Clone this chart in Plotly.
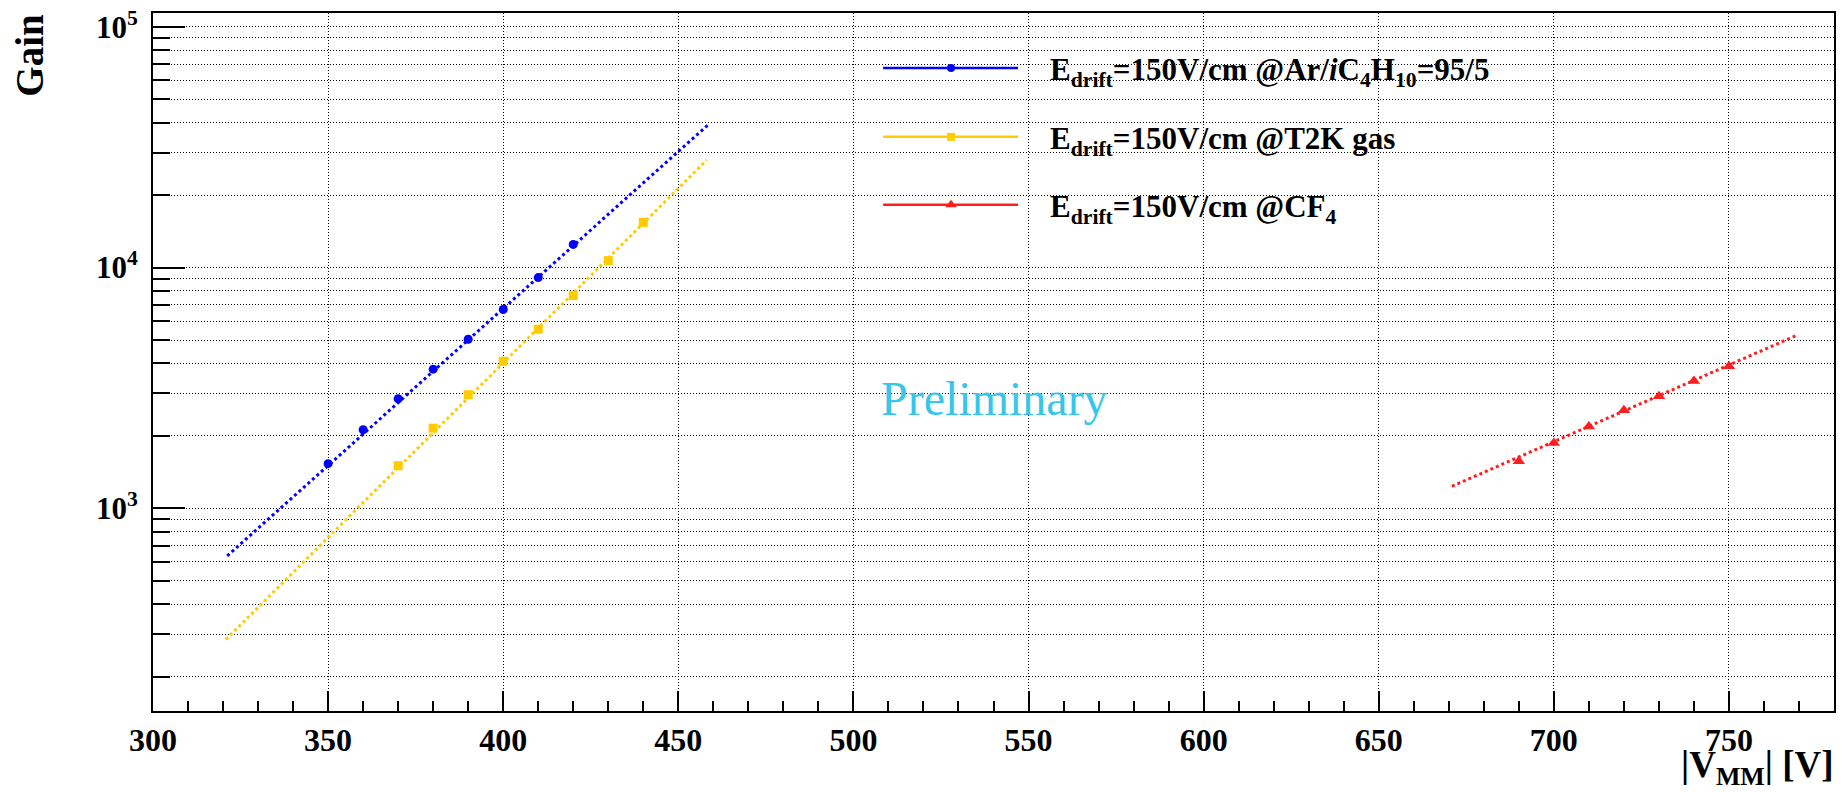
import plotly.graph_objects as go

# ---------------- data ----------------
blue_v = [350, 360, 370, 380, 390, 400, 410, 420]
blue_gain = [1533, 2121, 2851, 3786, 5040, 6696, 9090, 12490]
blue_fit_v = [321.2, 458.4]
blue_fit_gain = [634, 39080]

yellow_v = [370, 380, 390, 400, 410, 420, 430, 440]
yellow_gain = [1503, 2153, 2964, 4083, 5546, 7653, 10690, 15420]
yellow_fit_v = [320.8, 458.1]
yellow_fit_gain = [285, 27990]

red_v = [690, 700, 710, 720, 730, 740, 750]
red_gain = [1570, 1867, 2188, 2553, 2918, 3376, 3891]
red_fit_v = [670.9, 769.4]
red_fit_gain = [1234, 5236]

legend_labels = [
    "E<sub>drift</sub>=150V/cm @Ar/<i>i</i>C<sub>4</sub>H<sub>10</sub>=95/5",
    "E<sub>drift</sub>=150V/cm @T2K gas",
    "E<sub>drift</sub>=150V/cm @CF<sub>4</sub>",
]
y_tick_vals = [1e3, 1e4, 1e5]
y_tick_text = ["10<sup>3</sup>", "10<sup>4</sup>", "10<sup>5</sup>"]
y_minor_vals = [m * 10 ** e for e in (2, 3, 4) for m in range(2, 10)]

# ---------------- styling ----------------
BLUE = "#0000FF"
YELLOW = "#FFCC00"
RED = "#FF1E1E"
FONT = "Liberation Serif"

W, H = 1842, 792
L, R, T, B = 153, 6, 12, 81
PX0, PX1 = L, W - R          # plot area in pixels
PY0, PY1 = T, H - B


def px(x):
    return (x - PX0) / (PX1 - PX0)


def py(y):
    return (PY1 - y) / (PY1 - PY0)


fig = go.Figure()

series = [
    (blue_v, blue_gain, blue_fit_v, blue_fit_gain, BLUE, "circle", 9),
    (yellow_v, yellow_gain, yellow_fit_v, yellow_fit_gain, YELLOW, "square", 9),
    (red_v, red_gain, red_fit_v, red_fit_gain, RED, "triangle-up", 11),
]

for xv, yv, fx, fy, col, sym, sz in series:
    fig.add_trace(go.Scatter(
        x=xv, y=yv, mode="markers",
        marker=dict(color=col, symbol=sym, size=sz, line=dict(width=0)),
        showlegend=False, hoverinfo="x+y"))
    fig.add_trace(go.Scatter(
        x=fx, y=fy, mode="lines",
        line=dict(color=col, width=3, dash="3px,3px"),
        showlegend=False, hoverinfo="skip"))

# ---------------- manual ROOT-style legend on a pixel overlay axis ----------------
leg_y = [67, 136, 204]
leg_x0, leg_x1, leg_xm, leg_tx = 884, 1019, 952, 1049
for (xv, yv, fx, fy, col, sym, sz), ly, lab in zip(series, leg_y, legend_labels):
    fig.add_trace(go.Scatter(
        x=[leg_x0, leg_x1], y=[ly, ly], mode="lines",
        line=dict(color=col, width=2.5), xaxis="x2", yaxis="y2",
        showlegend=False, hoverinfo="skip"))
    fig.add_trace(go.Scatter(
        x=[leg_xm], y=[ly], mode="markers",
        marker=dict(color=col, symbol=sym, size=sz - 1, line=dict(width=0)),
        xaxis="x2", yaxis="y2", showlegend=False, hoverinfo="skip"))
    fig.add_annotation(
        x=px(leg_tx), y=py(ly + 4), xref="paper", yref="paper",
        text=lab, showarrow=False, xanchor="left", yanchor="middle",
        font=dict(family=FONT, size=31, color="black", weight="bold"))

# Preliminary
fig.add_annotation(
    x=px(996), y=py(398), xref="paper", yref="paper", text="Preliminary",
    showarrow=False, xanchor="center", yanchor="middle",
    font=dict(family=FONT, size=48, color="#36C6EC"))

# axis titles (ROOT style: at the ends of the axes)
fig.add_annotation(
    x=px(29), y=py(11), xref="paper", yref="paper", text="Gain",
    textangle=-90, showarrow=False, xanchor="center", yanchor="top",
    font=dict(family=FONT, size=39, color="black", weight="bold"))
fig.add_annotation(
    x=px(1838), y=py(742), xref="paper", yref="paper",
    text="|V<sub>MM</sub>| [V]", showarrow=False, xanchor="right", yanchor="top",
    font=dict(family=FONT, size=37, color="black", weight="bold"))

grid_dash = "1px,2px"
fig.update_layout(
    width=W, height=H,
    margin=dict(l=L, r=R, t=T, b=B, pad=0),
    paper_bgcolor="white", plot_bgcolor="white",
    font=dict(family=FONT, color="black"),
    showlegend=False,
    xaxis=dict(
        range=[300, 780], tick0=300, dtick=50,
        ticks="inside", ticklen=20, tickwidth=2, tickcolor="black",
        showgrid=True, gridcolor="black", gridwidth=1, griddash=grid_dash,
        minor=dict(dtick=10, ticks="inside", ticklen=10, tickwidth=2,
                   tickcolor="black", showgrid=False),
        showline=True, linewidth=2, linecolor="black", mirror=True,
        zeroline=False,
        tickfont=dict(family=FONT, size=32, color="black", weight="bold"),
    ),
    yaxis=dict(
        type="log", range=[2.1577, 5.058],
        tickmode="array", tickvals=y_tick_vals, ticktext=y_tick_text,
        ticks="inside", ticklen=32, tickwidth=2, tickcolor="black",
        ticklabelstandoff=7,
        showgrid=True, gridcolor="black", gridwidth=1, griddash=grid_dash,
        minor=dict(tickmode="array", tickvals=y_minor_vals, ticks="inside",
                   ticklen=17, tickwidth=2, tickcolor="black",
                   showgrid=True, gridcolor="black", gridwidth=1,
                   griddash=grid_dash),
        showline=True, linewidth=2, linecolor="black", mirror=True,
        zeroline=False,
        tickfont=dict(family=FONT, size=31, color="black", weight="bold"),
    ),
    xaxis2=dict(overlaying="x", range=[PX0, PX1], visible=False,
                fixedrange=True),
    yaxis2=dict(overlaying="y", range=[PY1, PY0], visible=False,
                fixedrange=True),
)

fig.write_html("out.html")
